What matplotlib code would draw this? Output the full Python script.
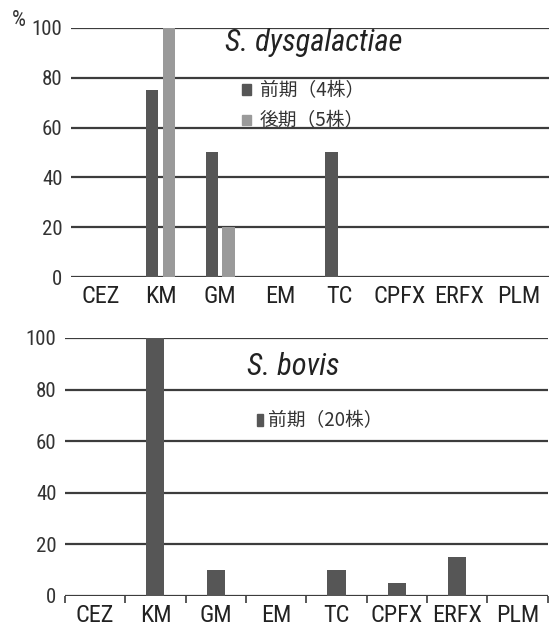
import matplotlib
matplotlib.use("Agg")
import matplotlib.pyplot as plt
from matplotlib.patches import Patch
import numpy as np

# data
drugs = ["CEZ", "KM", "GM", "EM", "TC", "CPFX", "ERFX", "PLM"]
dys_early = [0, 75, 50, 0, 50, 0, 0, 0]
dys_late = [0, 100, 20, 0, 0, 0, 0, 0]
bovis_early = [0, 100, 10, 0, 10, 5, 15, 0]

dys_labels = ["前期（4株）", "後期（5株）"]
bovis_labels = ["前期（20株）"]
yticks = [0, 20, 40, 60, 80, 100]

dark = "#565656"
light = "#9a9a9a"
grid_c = "#3c3c3c"
text_c = "#333333"

lat_font = ["Roboto Condensed", "DejaVu Sans"]
jp_font = ["Noto Sans CJK JP", "DejaVu Sans"]
plt.rcParams["font.family"] = lat_font

fig = plt.figure(figsize=(5.5, 6.34), dpi=100)
ax1 = fig.add_axes([0.129, 0.563, 0.869, 0.393])
ax2 = fig.add_axes([0.118, 0.060, 0.878, 0.407])

x = np.arange(len(drugs))


def style_axis(ax, ticks_out):
    ax.set_xlim(-0.5, len(drugs) - 0.5)
    ax.set_ylim(0, 100)
    ax.set_yticks(yticks)
    ax.set_yticklabels([str(v) for v in yticks], fontsize=15, color=text_c)
    ax.set_xticks(x)
    ax.set_xticklabels(drugs, fontsize=17.5, color="#222222")
    ax.set_axisbelow(True)
    ax.yaxis.grid(True, color=grid_c, linewidth=1.6)
    for s in ax.spines.values():
        s.set_visible(False)
    ax.tick_params(axis="y", length=0, pad=6)
    ax.tick_params(axis="x", which="major", length=0, pad=6)
    if ticks_out:
        ax.set_xticks(np.arange(-0.5, len(drugs)), minor=True)
        ax.tick_params(axis="x", which="minor", direction="out", length=5,
                       width=1.2, color=grid_c)


# top panel: S. dysgalactiae
w = 0.21
ax1.bar(x - 0.14, dys_early, width=w, color=dark, label=dys_labels[0])
ax1.bar(x + 0.14, dys_late, width=w, color=light, label=dys_labels[1])
style_axis(ax1, False)
ax1.text(0.322, 0.94, "S. dysgalactiae", transform=ax1.transAxes,
         fontsize=22, style="italic", color="#222222", va="center", ha="left")
ax1.legend(handles=[Patch(color=dark), Patch(color=light)], labels=dys_labels,
           prop={"family": jp_font, "size": 13.5}, frameon=False,
           handlelength=0.5, handleheight=0.5, handletextpad=0.45,
           labelspacing=0.5, loc="upper left",
           bbox_to_anchor=(0.338, 0.828), borderpad=0, labelcolor=text_c)
fig.text(0.035, 0.968, "%", fontsize=16, color=text_c, ha="center", va="center")

# bottom panel: S. bovis
ax2.bar(x, bovis_early, width=0.3, color=dark, label=bovis_labels[0])
style_axis(ax2, True)
ax2.text(0.377, 0.89, "S. bovis", transform=ax2.transAxes,
         fontsize=22, style="italic", color="#222222", va="center", ha="left")
ax2.legend(handles=[Patch(color=dark)], labels=bovis_labels,
           prop={"family": jp_font, "size": 13.5}, frameon=False,
           handlelength=0.35, handleheight=0.6, handletextpad=0.25,
           loc="upper left", bbox_to_anchor=(0.378, 0.755), borderpad=0,
           labelcolor=text_c)

fig.savefig("out.png", dpi=100)
